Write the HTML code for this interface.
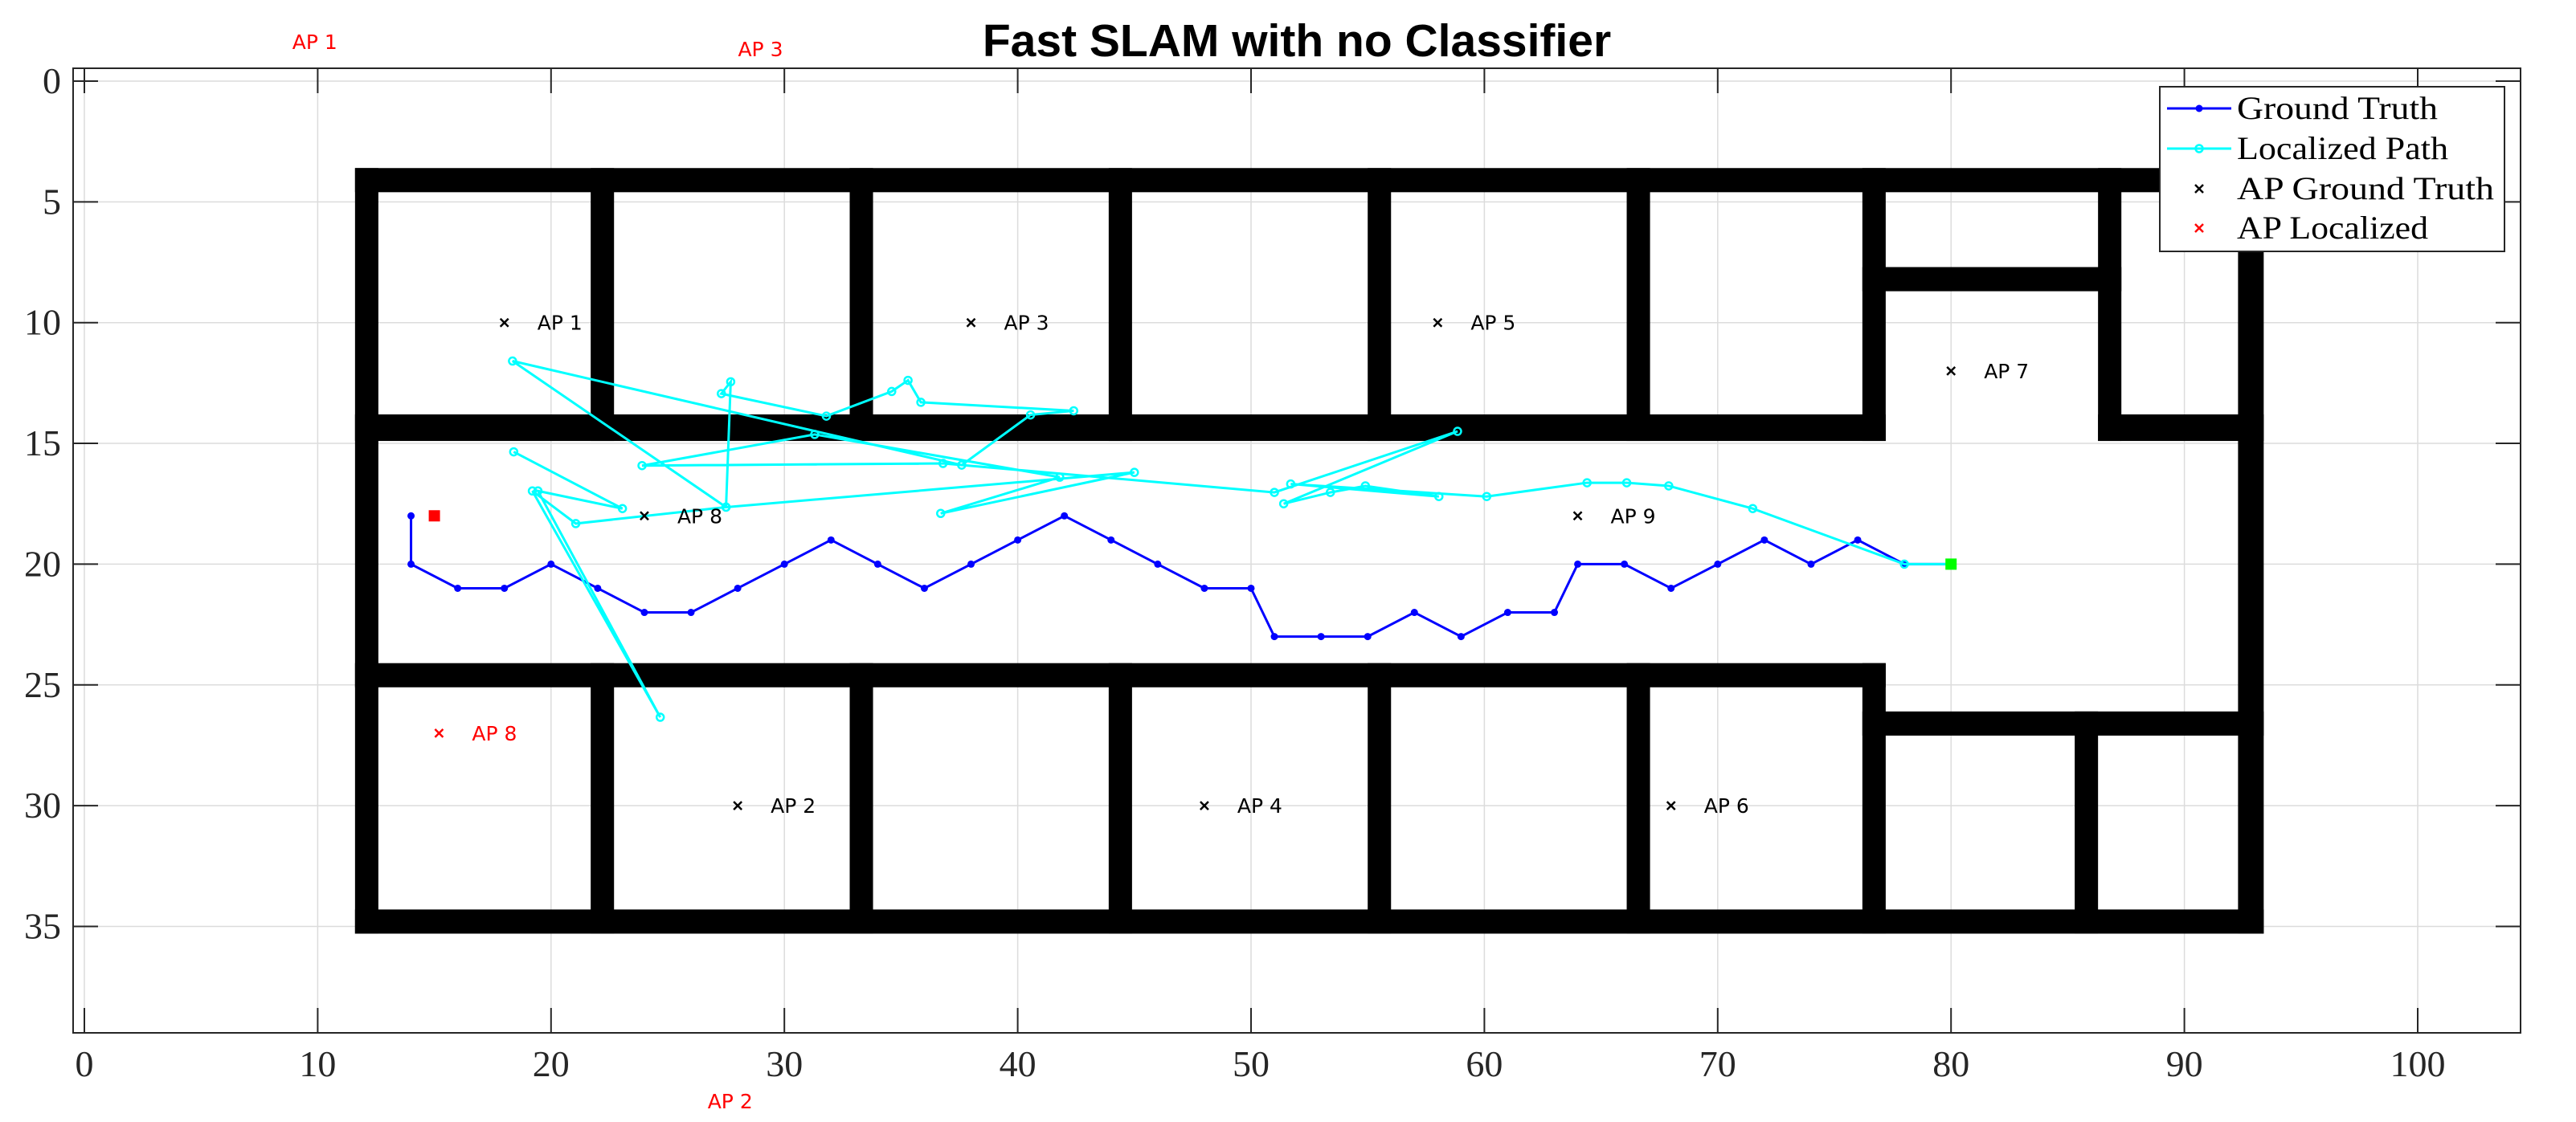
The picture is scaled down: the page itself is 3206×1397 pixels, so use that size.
<!DOCTYPE html>
<html><head><meta charset="utf-8"><style>
html,body{margin:0;padding:0;background:#fff;}
svg{display:block;}
</style></head><body>
<svg id="chart" width="3206" height="1397" viewBox="0 0 3206 1397" xmlns="http://www.w3.org/2000/svg"></svg>
<script>
const xTicks=[0,10,20,30,40,50,60,70,80,90,100];
const yTicks=[0,5,10,15,20,25,30,35];
const gtX=[14,14,16,18,20,22,24,26,28,30,32,34,36,38,40,42,44,46,48,50,51,53,55,57,59,61,63,64,66,68,70,72,74,76,78,80];
const gtY=[18,20,21,21,20,21,22,22,21,20,19,20,21,20,19,18,19,20,21,21,23,23,23,22,23,22,22,20,20,21,20,19,20,19,20,20];
const locX=[18.4,23.06,19.44,24.68,19.2,21.06,27.5,18.35,37.6,40.55,42.4,35.85,35.3,34.6,31.8,27.3,27.7,27.5,45.0,36.7,41.8,31.3,23.9,36.8,51.0,58.85,51.4,53.4,54.9,58.05,51.7,60.1,64.4,66.1,67.9,71.5,78,80];
const locY=[15.35,17.7,16.97,26.34,16.97,18.32,17.64,11.59,15.9,13.82,13.65,13.3,12.39,12.85,13.87,12.94,12.45,17.64,16.2,17.9,16.4,14.63,15.92,15.83,17.03,14.5,17.5,17.03,16.76,17.2,16.68,17.2,16.63,16.63,16.76,17.7,20,20];
const apNames=["AP 1","AP 2","AP 3","AP 4","AP 5","AP 6","AP 7","AP 8","AP 9"];
const apX=[18,28,38,48,58,68,80,24,64];
const apY=[10,30,10,30,10,30,12,18,18];
const locApNames=["AP 1","AP 3","AP 2","AP 8"];
const locApX=[7.5,26.6,25.3,15.2];
const locApY=[-1.63,-1.33,42.23,27];

const NS="http://www.w3.org/2000/svg";
const svg=document.getElementById('chart');
const X0=105,XS=29.04,Y0=101,YS=30.07;
const L=91,R=3137,T=85,B=1286;
function sx(v){return X0+v*XS;}
function sy(v){return Y0+v*YS;}
function mk(tag,attrs,parent){const e=document.createElementNS(NS,tag);for(const k in attrs)e.setAttribute(k,attrs[k]);(parent||svg).appendChild(e);return e;}

const grid=mk('g',{});


xTicks.forEach(t=>{const l=mk('line',{x1:sx(t),x2:sx(t),y1:T,y2:B,stroke:'#dcdcdc','stroke-width':1.5},grid);

});
yTicks.forEach(t=>{const l=mk('line',{x1:L,x2:R,y1:sy(t),y2:sy(t),stroke:'#dcdcdc','stroke-width':1.5},grid);

});

const walls=[[11.6,93.4,3.6,4.6],[11.6,93.4,34.3,35.3],[11.6,12.6,3.6,35.3],[92.3,93.4,3.6,35.3],
[11.6,77.2,13.8,14.9],[86.3,93.4,13.8,14.9],[11.6,77.2,24.1,25.1],[76.2,93.4,26.1,27.1],
[76.2,87.3,7.7,8.7],[76.2,77.2,3.6,14.9],[86.3,87.3,3.6,14.9],[76.2,77.2,24.1,35.3],[85.3,86.3,26.1,35.3],
[21.7,22.7,3.6,14.9],[32.8,33.8,3.6,14.9],[43.9,44.9,3.6,14.9],[55,56,3.6,14.9],[66.1,67.1,3.6,14.9],
[21.7,22.7,24.1,35.3],[32.8,33.8,24.1,35.3],[43.9,44.9,24.1,35.3],[55,56,24.1,35.3],[66.1,67.1,24.1,35.3]];
const wg=mk('g',{});


walls.forEach(w=>{const r=mk('rect',{x:sx(w[0]),y:sy(w[2]),width:(w[1]-w[0])*XS,height:(w[3]-w[2])*YS,fill:'#000'},wg);

});

const ax=mk('g',{});


mk('rect',{x:L,y:T,width:R-L,height:B-T,fill:'none',stroke:'#262626','stroke-width':2},ax);
xTicks.forEach(t=>{
 mk('line',{x1:sx(t),x2:sx(t),y1:B,y2:B-31,stroke:'#262626','stroke-width':2},ax);
 mk('line',{x1:sx(t),x2:sx(t),y1:T,y2:T+31,stroke:'#262626','stroke-width':2},ax);
 const tx=mk('text',{x:sx(t),y:1340,'text-anchor':'middle','font-family':'Liberation Serif, serif','font-size':46,fill:'#262626'},ax);
 tx.textContent=t;
 
 
});
yTicks.forEach(t=>{
 mk('line',{x1:L,x2:L+31,y1:sy(t),y2:sy(t),stroke:'#262626','stroke-width':2},ax);
 mk('line',{x1:R,x2:R-31,y1:sy(t),y2:sy(t),stroke:'#262626','stroke-width':2},ax);
 const tx=mk('text',{x:76,y:sy(t)+15,'text-anchor':'end','font-family':'Liberation Serif, serif','font-size':46,fill:'#262626'},ax);
 tx.textContent=t;
 
 
});

const gt=mk('g',{});


mk('polyline',{points:gtX.map((v,i)=>sx(v)+','+sy(gtY[i])).join(' '),fill:'none',stroke:'#0000ff','stroke-width':3},gt);
gtX.forEach((v,i)=>{const c=mk('circle',{cx:sx(v),cy:sy(gtY[i]),r:4.5,fill:'#0000ff'},gt);

});

const lp=mk('g',{});


mk('polyline',{points:locX.map((v,i)=>sx(v)+','+sy(locY[i])).join(' '),fill:'none',stroke:'#00ffff','stroke-width':3},lp);
locX.forEach((v,i)=>{const c=mk('circle',{cx:sx(v),cy:sy(locY[i]),r:4.5,fill:'none',stroke:'#00ffff','stroke-width':2.5},lp);

});

const st=mk('rect',{x:sx(15)-7,y:sy(18)-7,width:14,height:14,fill:'#ff0000'});


const en=mk('rect',{x:sx(80)-7,y:sy(20)-7,width:14,height:14,fill:'#00ff00'});



function cross(x,y,col,parent){const s=5;const g=mk('g',{stroke:col,'stroke-width':2.5},parent);
mk('line',{x1:x-s,y1:y-s,x2:x+s,y2:y+s},g);mk('line',{x1:x-s,y1:y+s,x2:x+s,y2:y-s},g);return g;}

const apg=mk('g',{});


apX.forEach((v,i)=>{const g=cross(sx(v),sy(apY[i]),'#000',apg);


const t=mk('text',{x:sx(v)+41,y:sy(apY[i])+9,'font-family':'DejaVu Sans, sans-serif','font-size':25,fill:'#000'},apg);
t.textContent=apNames[i];

});

const alg=mk('g',{});


locApX.forEach((v,i)=>{
 const x=sx(v),y=sy(locApY[i]);
 if(x>L&&x<R&&y>T&&y<B){const g=cross(x,y,'#ff0000',alg);
 
 }
 const t=mk('text',{x:x+41,y:y+9,'font-family':'DejaVu Sans, sans-serif','font-size':25,fill:'#ff0000'},alg);
 t.textContent=locApNames[i];
 
 
});

const ti=mk('text',{x:1614,y:70,'text-anchor':'middle','font-family':'Liberation Sans, sans-serif','font-size':57,'font-weight':'bold',fill:'#000'});
ti.textContent='Fast SLAM with no Classifier';



const lg=mk('g',{});


mk('rect',{x:2688,y:108,width:429,height:205,fill:'#fff',stroke:'#262626','stroke-width':2},lg);
const labels=['Ground Truth','Localized Path','AP Ground Truth','AP Localized'];
const widths=[250,263,320,238];
const rows=[135,185,235,284];
labels.forEach((lab,i)=>{
 const y=rows[i];
 const e=mk('g',{},lg);
 
 
 if(i===0){mk('line',{x1:2697,x2:2777,y1:y,y2:y,stroke:'#0000ff','stroke-width':3},e);mk('circle',{cx:2737,cy:y,r:4.5,fill:'#0000ff'},e);}
 if(i===1){mk('line',{x1:2697,x2:2777,y1:y,y2:y,stroke:'#00ffff','stroke-width':3},e);mk('circle',{cx:2737,cy:y,r:4.5,fill:'none',stroke:'#00ffff','stroke-width':2.5},e);}
 if(i===2)cross(2737,y,'#000',e);
 if(i===3)cross(2737,y,'#ff0000',e);
 const t=mk('text',{x:2784,y:y+13,'font-family':'Liberation Serif, serif','font-size':40,fill:'#000',textLength:widths[i],lengthAdjust:'spacingAndGlyphs'},e);
 t.textContent=lab;
});
</script>
</body></html>
